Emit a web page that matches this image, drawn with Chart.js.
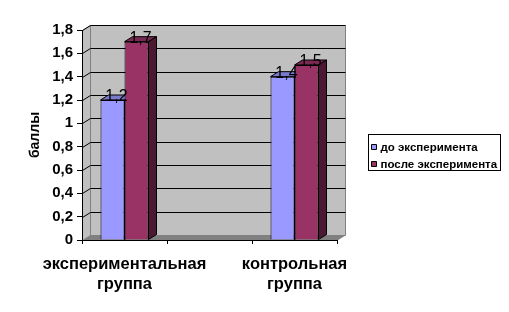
<!DOCTYPE html>
<html>
<head>
<meta charset="utf-8">
<script src="https://cdn.jsdelivr.net/npm/chart.js@4/dist/chart.umd.min.js"></script>
<style>
  html, body { margin: 0; padding: 0; background: #fff; }
  #wrap { width: 509px; height: 312px; }
</style>
</head>
<body>
<div id="wrap"><canvas id="c" width="509" height="312"></canvas></div>
<script>
  'use strict';

  // data (middle category is an empty gap)
  const CATEGORIES = [['экспериментальная', 'группа'], '', ['контрольная', 'группа']];
  const BEFORE = [1.2, null, 1.4];
  const AFTER = [1.7, null, 1.5];
  const SERIES_NAMES = ['до эксперимента', 'после эксперимента'];
  const Y_MIN = 0, Y_MAX = 1.8, Y_STEP = 0.2;
  const Y_TITLE = 'баллы';

  const FRONT = ['#9999ff', '#993366'];
  const TOP = ['#7a7acc', '#7a2952'];
  const SIDE = ['#4c4c80', '#4c1933'];

  const DX = 8, DY = -5;          // 3D depth offset
  const FONT = '"Liberation Sans", Arial, sans-serif';

  const fmt = v => String(Math.round(v * 10) / 10).replace('.', ',');

  function poly(ctx, pts, fill, stroke) {
    ctx.beginPath();
    ctx.moveTo(pts[0][0], pts[0][1]);
    for (let i = 1; i < pts.length; i++) ctx.lineTo(pts[i][0], pts[i][1]);
    ctx.closePath();
    if (fill) { ctx.fillStyle = fill; ctx.fill(); }
    if (stroke) { ctx.strokeStyle = stroke; ctx.lineWidth = 1; ctx.stroke(); }
  }

  // walls, floor and gridlines behind everything
  const wallsPlugin = {
    id: 'walls',
    beforeDraw(chart) {
      const { ctx, chartArea: a, scales: { y } } = chart;
      const L = a.left, R = a.right, T = a.top, B = a.bottom;
      ctx.save();
      ctx.translate(0.5, 0.5);
      poly(ctx, [[L + DX, T + DY], [R + DX, T + DY], [R + DX, B + DY], [L + DX, B + DY]], '#c0c0c0', '#808080');
      poly(ctx, [[L, T], [L + DX, T + DY], [L + DX, B + DY], [L, B]], '#c0c0c0', '#808080');
      poly(ctx, [[L, B], [L + DX, B + DY], [R + DX, B + DY], [R, B]], '#808080', null);
      ctx.strokeStyle = '#000';
      ctx.lineWidth = 1;
      y.ticks.forEach(t => {
        if (t.value <= Y_MIN) return;
        const py = Math.round(y.getPixelForValue(t.value));
        ctx.beginPath();
        ctx.moveTo(L, py);
        ctx.lineTo(L + DX, py + DY);
        ctx.lineTo(R + DX, py + DY);
        ctx.stroke();
      });
      ctx.restore();
    },
    // tops and sides of the columns, front faces are drawn by Chart.js
    beforeDatasetsDraw(chart) {
      const { ctx } = chart;
      ctx.save();
      chart.data.datasets.forEach((ds, i) => {
        chart.getDatasetMeta(i).data.forEach((bar, j) => {
          if (ds.data[j] == null) return;
          const l = bar.x - bar.width / 2, r = bar.x + bar.width / 2;
          const t = bar.y, b = bar.base;
          poly(ctx, [[l, t], [l + DX, t + DY], [r + DX, t + DY], [r, t]], TOP[i], '#000');
          poly(ctx, [[r, t], [r + DX, t + DY], [r + DX, b + DY], [r, b]], SIDE[i], '#000');
        });
      });
      ctx.restore();
    },
    afterDatasetsDraw(chart) {
      const { ctx } = chart;
      ctx.save();
      ctx.font = '16px ' + FONT;
      ctx.fillStyle = '#000';
      ctx.textAlign = 'center';
      ctx.textBaseline = 'alphabetic';
      chart.data.datasets.forEach((ds, i) => {
        chart.getDatasetMeta(i).data.forEach((bar, j) => {
          if (ds.data[j] == null) return;
          ctx.fillText(fmt(ds.data[j]), bar.x + DX / 2, bar.y + 1);
        });
      });
      ctx.restore();
    },
    afterDraw(chart) {
      const { ctx } = chart;
      ctx.save();
      ctx.translate(0.5, 0.5);
      ctx.strokeStyle = '#000';
      ctx.lineWidth = 1;
      ctx.strokeRect(368, 134, 132, 36);
      ctx.font = 'bold 11.5px ' + FONT;
      ctx.textBaseline = 'middle';
      ctx.textAlign = 'left';
      const rows = [147, 164];
      chart.data.datasets.forEach((ds, i) => {
        poly(ctx, [[371, rows[i] - 3], [376, rows[i] - 3], [376, rows[i] + 2], [371, rows[i] + 2]], FRONT[i], '#000');
        ctx.fillStyle = '#000';
        ctx.fillText(ds.label, 380, rows[i]);
      });
      ctx.restore();
    }
  };

  new Chart(document.getElementById('c'), {
    type: 'bar',
    plugins: [wallsPlugin],
    data: {
      labels: CATEGORIES,
      datasets: [
        { label: SERIES_NAMES[0], data: BEFORE, backgroundColor: FRONT[0], borderColor: '#000', borderWidth: 1 },
        { label: SERIES_NAMES[1], data: AFTER, backgroundColor: FRONT[1], borderColor: '#000', borderWidth: 1 }
      ]
    },
    options: {
      responsive: false,
      animation: false,
      devicePixelRatio: 1,
      layout: { padding: { left: 27, right: 172, top: 30, bottom: 0 } },
      datasets: { bar: { categoryPercentage: 0.565, barPercentage: 1 } },
      plugins: { legend: { display: false }, tooltip: { enabled: false } },
      scales: {
        x: {
          grid: { display: true, drawOnChartArea: false, tickLength: 4, color: '#000', offset: true },
          border: { display: true, color: '#000' },
          ticks: {
            color: '#000', autoSkip: false, maxRotation: 0, minRotation: 0, padding: 10,
            font: { family: FONT, size: 16.5, weight: 'bold', lineHeight: 1.22 }
          },
          afterFit: s => { s.height = 72; }
        },
        y: {
          min: Y_MIN, max: Y_MAX,
          grid: { display: true, drawOnChartArea: false, tickLength: 5, color: '#000' },
          border: { display: true, color: '#000' },
          ticks: {
            stepSize: Y_STEP, color: '#000', padding: 4,
            font: { family: FONT, size: 15, weight: 'bold' },
            callback: v => fmt(v)
          },
          title: {
            display: true, text: Y_TITLE, color: '#000', padding: { top: 0, bottom: 0 },
            font: { family: FONT, size: 14, weight: 'bold', lineHeight: 1.2 }
          },
          afterFit: s => { s.width = 55; }
        }
      }
    }
  });
</script>
</body>
</html>
